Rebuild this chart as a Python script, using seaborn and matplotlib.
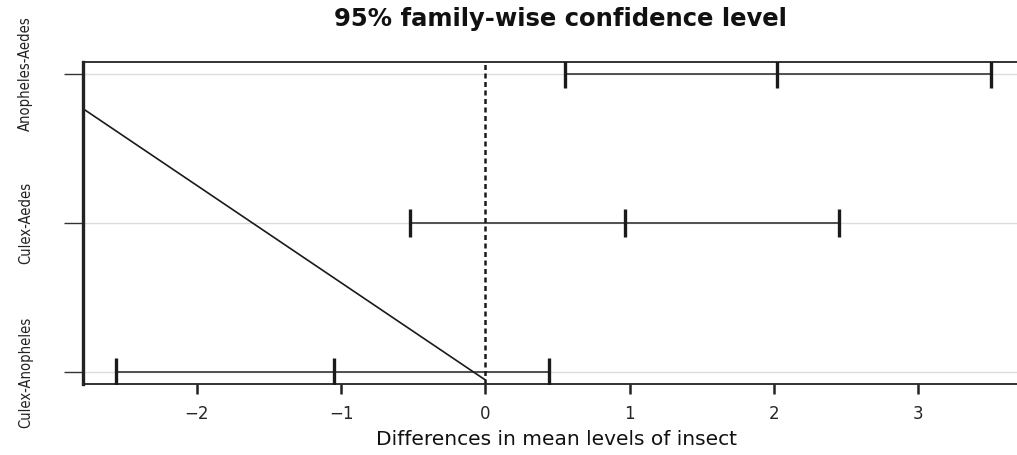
import matplotlib
matplotlib.use("Agg")
import matplotlib.pyplot as plt
import seaborn as sns
import pandas as pd
import numpy as np

# ---- data (Tukey HSD) ----
comparisons = ["Anopheles-Aedes", "Culex-Aedes", "Culex-Anopheles"]
positions = [3, 2, 1]
lwr = [0.55, -0.52, -2.56]
diff = [2.02, 0.97, -1.05]
upr = [3.51, 2.45, 0.44]
# stray diagonal line
diag_x = [-2.79, 0.0]
diag_y = [2.767, 0.947]

x_ticks = [-2, -1, 0, 1, 2, 3]

sns.set_style("white")
plt.rcParams["font.family"] = ["DejaVu Sans"]

fig = plt.figure(figsize=(10.17, 4.55), dpi=100)
ax = fig.add_axes([83 / 1017, 71 / 455, (1030 - 83) / 1017, (384 - 62) / 455])

ci = pd.DataFrame({"comparison": comparisons, "pos": positions,
                   "lwr": lwr, "diff": diff, "upr": upr})
seg = pd.concat([
    ci[["comparison", "pos"]].assign(x=ci["lwr"]),
    ci[["comparison", "pos"]].assign(x=ci["upr"]),
]).sort_values(["comparison", "x"])
marks = pd.concat([
    ci[["comparison", "pos"]].assign(x=ci[c]) for c in ["lwr", "diff", "upr"]
])

# gridlines
for p in positions:
    ax.axhline(p, color="#dcdcdc", lw=1.0, zorder=0)

sns.lineplot(data=seg, x="x", y="pos", units="comparison", estimator=None,
             sort=False, color="#505050", lw=1.4, ax=ax, zorder=2)
sns.scatterplot(data=marks, x="x", y="pos", marker="|", s=380,
                linewidth=2.4, color="#1a1a1a", ax=ax, zorder=3)

diag = pd.DataFrame({"x": diag_x, "y": diag_y})
sns.lineplot(data=diag, x="x", y="y", estimator=None, sort=False,
             color="#1a1a1a", lw=1.2, ax=ax, zorder=2)

ax.axvline(0, color="#1a1a1a", lw=1.8, ls=(0, (2.0, 1.4)), zorder=2)

ax.set_xlim(-2.79, 3.777)
ax.set_ylim(0.92, 3.08)
ax.set_xticks(x_ticks)
ax.set_xticklabels([str(t).replace("-", "\u2212") for t in x_ticks], fontsize=12)
ax.set_yticks(positions)
ax.set_yticklabels(comparisons, rotation=90, va="center", fontsize=10.5,
                   fontstretch="condensed", color="#222222")

ax.tick_params(axis="x", direction="out", length=7, width=1.8, color="#222222",
               pad=8, bottom=True)
ax.tick_params(axis="y", direction="out", length=14, width=1.0, color="#333333",
               pad=22, left=True)

for s in ["top", "bottom"]:
    ax.spines[s].set_color("#222222")
    ax.spines[s].set_linewidth(1.3)
ax.spines["left"].set_color("#222222")
ax.spines["left"].set_linewidth(2.4)
ax.spines["right"].set_visible(False)

ax.set_xlabel("Differences in mean levels of insect", fontsize=14.5, labelpad=5,
              color="#111111")
ax.set_ylabel("")
fig.text(560 / 1017, 1 - 19 / 455, "95% family-wise confidence level",
         ha="center", va="center", fontsize=17.5, fontweight="bold", color="#111111")

fig.savefig("out.png", dpi=100)
